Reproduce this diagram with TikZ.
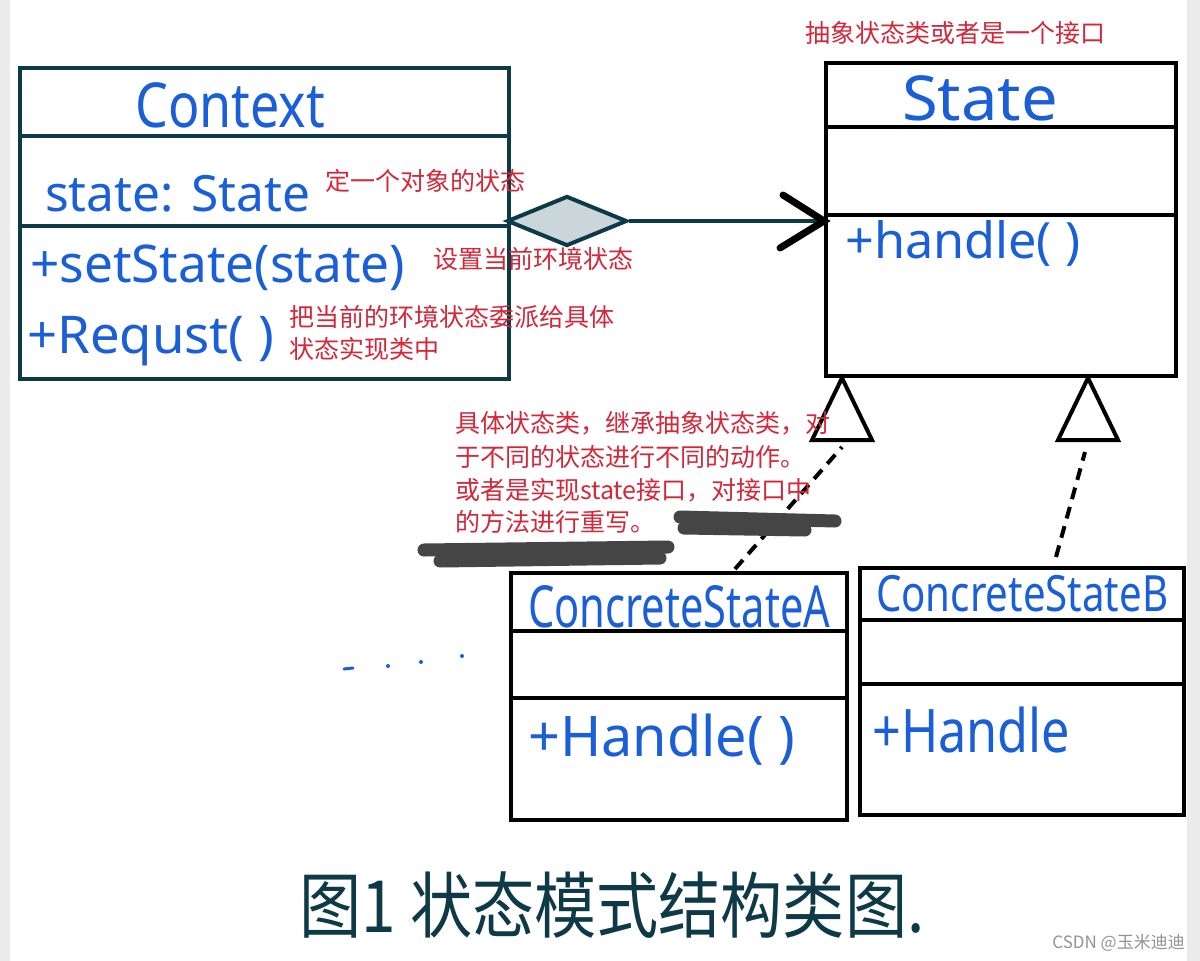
\documentclass[tikz,border=0pt]{standalone}
\usepackage{fontspec}
\usepackage{graphicx}
\setmainfont{Noto Sans}
\newfontfamily\cjk{Noto Sans CJK SC}
\usetikzlibrary{shapes.geometric}
\definecolor{hblue}{HTML}{1A5FD8}
\definecolor{nred}{HTML}{D2283A}
\definecolor{tealc}{HTML}{0E3A47}
\definecolor{diafill}{HTML}{CBD6DB}
\definecolor{scrib}{HTML}{454545}
\definecolor{sidegray}{HTML}{EBEBEB}
\newcommand\fs[1]{\fontsize{#1}{#1}\selectfont}
\newcommand\hw[2]{\resizebox{#1pt}{\height}{#2}}
\begin{document}
\begin{tikzpicture}[x=1pt,y=-1pt,
  hand/.style={text=hblue, inner sep=0, anchor=base west},
  note/.style={text=nred, inner sep=0, anchor=west, font=\cjk\fs{25}},
  umlbox/.style={draw, line width=4, inner sep=0, anchor=north west},
  dashconn/.style={draw=black, line width=4, dash pattern=on 12pt off 8pt},
  gen/.style={draw=black, line width=4, fill=white, line join=miter},
  scribble/.style={draw=scrib, line width=13, line cap=round}]
\useasboundingbox (0,0) rectangle (1200,961);
\fill[white] (0,0) rectangle (1200,961);
\fill[sidegray] (0,0) rectangle (10,961);
\fill[sidegray] (1187,0) rectangle (1200,961);

% Context class
\node[umlbox, draw=tealc, minimum width=489, minimum height=311] (ctx) at (18,66) {};
\draw[tealc, line width=4] (ctx.west |- 0,136) -- (ctx.east |- 0,136);
\draw[tealc, line width=4] (ctx.west |- 0,226) -- (ctx.east |- 0,226);
\node[hand] (ctxname) at (135,127) {\fs{62}\hw{190}{Context}};
\node[hand] (ctxattr) at (45,211) {\fs{50}\hw{265}{state: State}};
\node[hand] (ctxop1) at (30,282) {\fs{52}\hw{375}{+setState(state)}};
\node[hand] (ctxop2) at (27,353) {\fs{52}\hw{247}{+Requst( )}};

\node[note] (n1) at (325,181) {定一个对象的状态};
\node[note] (n2) at (433,259) {设置当前环境状态};
\node[note] (n3) at (289,317) {把当前的环境状态委派给具体};
\node[note] (n4) at (289,349) {状态实现类中};

% State class
\node[umlbox, minimum width=350, minimum height=313] (st) at (824,61) {};
\draw[line width=4] (st.west |- 0,127) -- (st.east |- 0,127);
\draw[line width=4] (st.west |- 0,215) -- (st.east |- 0,215);
\node[hand] (stname) at (902,120) {\fs{62}\hw{156}{State}};
\node[hand] (stop) at (845,258) {\fs{50}\hw{235}{+handle( )}};
\node[note] (n5) at (805,33) {抽象状态类或者是一个接口};

% aggregation connector
\node[diamond, draw=tealc, fill=diafill, line width=4, inner sep=0,
      minimum width=120, minimum height=50] (dia) at (567,221) {};
\coordinate (tip) at (st.west |- dia.east);
\draw[tealc, line width=4] (dia.east) -- (tip);
\draw[black, line width=7, line cap=round, line join=miter] ([shift={(-41,-26)}]tip) -- (tip) -- ([shift={(-44,27)}]tip);

% ConcreteStateA
\node[umlbox, minimum width=336, minimum height=247] (csa) at (509,571) {};
\draw[line width=4] (csa.west |- 0,631) -- (csa.east |- 0,631);
\draw[line width=4] (csa.west |- 0,698) -- (csa.east |- 0,698);
\node[hand] (csaname) at (528,627) {\fs{58}\hw{302}{ConcreteStateA}};
\node[hand] (csaop) at (528,756) {\fs{56}\hw{267}{+Handle( )}};

% ConcreteStateB
\node[umlbox, minimum width=324, minimum height=247] (csb) at (858,566) {};
\draw[line width=4] (csb.west |- 0,620) -- (csb.east |- 0,620);
\draw[line width=4] (csb.west |- 0,684) -- (csb.east |- 0,684);
\node[hand] (csbname) at (876,611) {\fs{50}\hw{292}{ConcreteStateB}};
\node[hand] (csbop) at (872,752) {\fs{60}\hw{198}{+Handle}};

% generalization connectors
\coordinate (t1) at (842,440);
\coordinate (t2) at (1088,440);
\coordinate (a1) at (735,569);
\coordinate (b1) at (1056,557);
\draw[dashconn] (a1) -- ([shift={(0,7)}]t1);
\draw[dashconn] (b1) -- ([shift={(-3,12)}]t2);
\draw[gen] ([shift={(-30,0)}]t1) -- (st.south -| t1) -- ([shift={(30,0)}]t1) -- cycle;
\draw[gen] ([shift={(-30,0)}]t2) -- (st.south -| t2) -- ([shift={(30,0)}]t2) -- cycle;

% note block
\node[note] (n6) at (455,423) {具体状态类，继承抽象状态类，对};
\node[note] (n7) at (455,457) {于不同的状态进行不同的动作。};
\node[note] (n8) at (455,490) {或者是实现state接口，对接口中};
\node[note] (n9) at (455,522) {的方法进行重写。};
\draw[scribble] (680,517) -- (835,521);
\draw[scribble] (684,528) -- (805,530);
\draw[scribble] (424,550) -- (668,547);
\draw[scribble] (440,561) -- (660,558);

% dots
\draw[hblue, line width=3, line cap=round] (344,669) -- (353,668);
\fill[hblue] (388,666) circle (2);
\fill[hblue] (421,662) circle (2);
\fill[hblue] (462,656) circle (2);

% caption
\node[text=tealc, inner sep=0] (cap) at (612,905) {\cjk\fs{72}\hw{625}{图1 状态模式结构类图.}};
\node[text=gray!85, inner sep=0, anchor=east] (wm) at (1185,943) {\cjk\fs{17}CSDN @玉米迪迪};
\end{tikzpicture}
\end{document}
